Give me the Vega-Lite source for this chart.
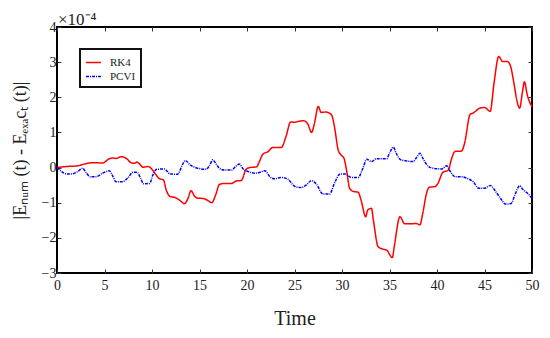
{
  "$schema": "https://vega.github.io/schema/vega-lite/v6.json",
  "width": 475,
  "height": 246,
  "autosize": {"type": "none"},
  "padding": {"left": 57, "top": 27, "right": 18, "bottom": 65},
  "background": "white",
  "config": {
    "view": {"stroke": "#000000", "strokeWidth": 2},
    "font": "Liberation Serif",
    "text": {"font": "Liberation Serif"},
    "axis": {
      "labelFont": "Liberation Serif",
      "titleFont": "Liberation Serif",
      "labelFontSize": 14,
      "labelColor": "#222222",
      "titleColor": "#222222",
      "titleFontWeight": "normal",
      "grid": false,
      "domain": false,
      "labelFlush": false,
      "tickColor": "#333333",
      "tickSize": -4,
      "tickWidth": 1
    },
    "legend": {"labelFont": "Liberation Serif"}
  },
  "data": {
    "values": [
      {"t": 0, "v": 0, "method": "RK4"},
      {"t": 1, "v": 0.03, "method": "RK4"},
      {"t": 2.2, "v": 0.05, "method": "RK4"},
      {"t": 2.7, "v": 0.09, "method": "RK4"},
      {"t": 3.8, "v": 0.14, "method": "RK4"},
      {"t": 4.8, "v": 0.13, "method": "RK4"},
      {"t": 5.5, "v": 0.25, "method": "RK4"},
      {"t": 5.9, "v": 0.27, "method": "RK4"},
      {"t": 6.2, "v": 0.26, "method": "RK4"},
      {"t": 6.8, "v": 0.31, "method": "RK4"},
      {"t": 7.3, "v": 0.26, "method": "RK4"},
      {"t": 7.8, "v": 0.14, "method": "RK4"},
      {"t": 8.2, "v": 0.12, "method": "RK4"},
      {"t": 8.4, "v": 0.16, "method": "RK4"},
      {"t": 8.7, "v": 0.1, "method": "RK4"},
      {"t": 9.05, "v": 0.01, "method": "RK4"},
      {"t": 9.6, "v": 0.03, "method": "RK4"},
      {"t": 9.9, "v": -0.02, "method": "RK4"},
      {"t": 10.3, "v": -0.16, "method": "RK4"},
      {"t": 10.8, "v": -0.32, "method": "RK4"},
      {"t": 11.2, "v": -0.35, "method": "RK4"},
      {"t": 11.5, "v": -0.64, "method": "RK4"},
      {"t": 11.9, "v": -0.82, "method": "RK4"},
      {"t": 12.4, "v": -0.85, "method": "RK4"},
      {"t": 12.7, "v": -0.89, "method": "RK4"},
      {"t": 13.1, "v": -0.97, "method": "RK4"},
      {"t": 13.4, "v": -1.03, "method": "RK4"},
      {"t": 13.8, "v": -0.87, "method": "RK4"},
      {"t": 14.1, "v": -0.66, "method": "RK4"},
      {"t": 14.5, "v": -0.82, "method": "RK4"},
      {"t": 14.8, "v": -0.87, "method": "RK4"},
      {"t": 15.4, "v": -0.88, "method": "RK4"},
      {"t": 15.9, "v": -0.94, "method": "RK4"},
      {"t": 16.3, "v": -1.0, "method": "RK4"},
      {"t": 16.7, "v": -0.78, "method": "RK4"},
      {"t": 17.1, "v": -0.48, "method": "RK4"},
      {"t": 17.6, "v": -0.45, "method": "RK4"},
      {"t": 18.4, "v": -0.45, "method": "RK4"},
      {"t": 18.9, "v": -0.38, "method": "RK4"},
      {"t": 19.4, "v": -0.37, "method": "RK4"},
      {"t": 19.9, "v": -0.05, "method": "RK4"},
      {"t": 20.3, "v": 0, "method": "RK4"},
      {"t": 21.0, "v": 0.02, "method": "RK4"},
      {"t": 21.3, "v": 0.17, "method": "RK4"},
      {"t": 21.7, "v": 0.39, "method": "RK4"},
      {"t": 22.2, "v": 0.45, "method": "RK4"},
      {"t": 22.7, "v": 0.57, "method": "RK4"},
      {"t": 23.6, "v": 0.57, "method": "RK4"},
      {"t": 24.1, "v": 0.88, "method": "RK4"},
      {"t": 24.6, "v": 1.3, "method": "RK4"},
      {"t": 25.0, "v": 1.29, "method": "RK4"},
      {"t": 25.5, "v": 1.32, "method": "RK4"},
      {"t": 26.0, "v": 1.33, "method": "RK4"},
      {"t": 26.4, "v": 1.24, "method": "RK4"},
      {"t": 26.8, "v": 1.0, "method": "RK4"},
      {"t": 27.1, "v": 1.26, "method": "RK4"},
      {"t": 27.5, "v": 1.74, "method": "RK4"},
      {"t": 27.8, "v": 1.57, "method": "RK4"},
      {"t": 28.3, "v": 1.58, "method": "RK4"},
      {"t": 28.9, "v": 1.5, "method": "RK4"},
      {"t": 29.2, "v": 1.17, "method": "RK4"},
      {"t": 29.6, "v": 0.5, "method": "RK4"},
      {"t": 29.9, "v": 0.36, "method": "RK4"},
      {"t": 30.2, "v": 0.27, "method": "RK4"},
      {"t": 30.5, "v": -0.11, "method": "RK4"},
      {"t": 30.8, "v": -0.59, "method": "RK4"},
      {"t": 31.2, "v": -0.68, "method": "RK4"},
      {"t": 31.7, "v": -0.7, "method": "RK4"},
      {"t": 32.0, "v": -0.92, "method": "RK4"},
      {"t": 32.5, "v": -1.4, "method": "RK4"},
      {"t": 32.7, "v": -1.21, "method": "RK4"},
      {"t": 33.1, "v": -1.16, "method": "RK4"},
      {"t": 33.3, "v": -1.49, "method": "RK4"},
      {"t": 33.8, "v": -2.25, "method": "RK4"},
      {"t": 34.3, "v": -2.32, "method": "RK4"},
      {"t": 34.7, "v": -2.35, "method": "RK4"},
      {"t": 35.3, "v": -2.56, "method": "RK4"},
      {"t": 35.5, "v": -2.25, "method": "RK4"},
      {"t": 36.1, "v": -1.4, "method": "RK4"},
      {"t": 36.6, "v": -1.6, "method": "RK4"},
      {"t": 37.3, "v": -1.6, "method": "RK4"},
      {"t": 37.8, "v": -1.59, "method": "RK4"},
      {"t": 38.2, "v": -1.63, "method": "RK4"},
      {"t": 38.5, "v": -1.3, "method": "RK4"},
      {"t": 38.9, "v": -0.73, "method": "RK4"},
      {"t": 39.2, "v": -0.56, "method": "RK4"},
      {"t": 39.8, "v": -0.54, "method": "RK4"},
      {"t": 40.1, "v": -0.45, "method": "RK4"},
      {"t": 40.6, "v": -0.14, "method": "RK4"},
      {"t": 41.2, "v": -0.07, "method": "RK4"},
      {"t": 41.5, "v": 0.22, "method": "RK4"},
      {"t": 41.9, "v": 0.46, "method": "RK4"},
      {"t": 42.6, "v": 0.47, "method": "RK4"},
      {"t": 42.9, "v": 0.69, "method": "RK4"},
      {"t": 43.5, "v": 1.52, "method": "RK4"},
      {"t": 43.8, "v": 1.55, "method": "RK4"},
      {"t": 44.5, "v": 1.69, "method": "RK4"},
      {"t": 45.0, "v": 1.71, "method": "RK4"},
      {"t": 45.6, "v": 1.6, "method": "RK4"},
      {"t": 46.0, "v": 2.4, "method": "RK4"},
      {"t": 46.5, "v": 3.16, "method": "RK4"},
      {"t": 46.9, "v": 3.02, "method": "RK4"},
      {"t": 47.4, "v": 3.02, "method": "RK4"},
      {"t": 47.7, "v": 2.92, "method": "RK4"},
      {"t": 48.1, "v": 2.4, "method": "RK4"},
      {"t": 48.4, "v": 1.92, "method": "RK4"},
      {"t": 48.7, "v": 1.69, "method": "RK4"},
      {"t": 49.0, "v": 2.16, "method": "RK4"},
      {"t": 49.2, "v": 2.44, "method": "RK4"},
      {"t": 49.5, "v": 2.07, "method": "RK4"},
      {"t": 50, "v": 1.73, "method": "RK4"},
      {"t": 0, "v": 0, "method": "PCVI"},
      {"t": 0.46, "v": -0.11, "method": "PCVI"},
      {"t": 1, "v": -0.18, "method": "PCVI"},
      {"t": 1.5, "v": -0.18, "method": "PCVI"},
      {"t": 2.2, "v": -0.11, "method": "PCVI"},
      {"t": 2.7, "v": -0.02, "method": "PCVI"},
      {"t": 3.1, "v": -0.16, "method": "PCVI"},
      {"t": 3.5, "v": -0.26, "method": "PCVI"},
      {"t": 4.1, "v": -0.26, "method": "PCVI"},
      {"t": 4.8, "v": -0.16, "method": "PCVI"},
      {"t": 5.5, "v": -0.09, "method": "PCVI"},
      {"t": 5.9, "v": -0.26, "method": "PCVI"},
      {"t": 6.2, "v": -0.4, "method": "PCVI"},
      {"t": 6.9, "v": -0.4, "method": "PCVI"},
      {"t": 7.5, "v": -0.28, "method": "PCVI"},
      {"t": 8.0, "v": -0.13, "method": "PCVI"},
      {"t": 8.4, "v": -0.13, "method": "PCVI"},
      {"t": 8.8, "v": -0.3, "method": "PCVI"},
      {"t": 9.1, "v": -0.46, "method": "PCVI"},
      {"t": 9.75, "v": -0.45, "method": "PCVI"},
      {"t": 10.1, "v": -0.21, "method": "PCVI"},
      {"t": 10.5, "v": -0.05, "method": "PCVI"},
      {"t": 11.3, "v": -0.04, "method": "PCVI"},
      {"t": 11.9, "v": -0.18, "method": "PCVI"},
      {"t": 12.7, "v": -0.19, "method": "PCVI"},
      {"t": 13.2, "v": 0.08, "method": "PCVI"},
      {"t": 13.5, "v": 0.2, "method": "PCVI"},
      {"t": 14.0, "v": 0.08, "method": "PCVI"},
      {"t": 14.7, "v": -0.01, "method": "PCVI"},
      {"t": 15.7, "v": -0.05, "method": "PCVI"},
      {"t": 16.1, "v": 0.08, "method": "PCVI"},
      {"t": 16.4, "v": 0.22, "method": "PCVI"},
      {"t": 16.7, "v": 0.12, "method": "PCVI"},
      {"t": 17.1, "v": -0.02, "method": "PCVI"},
      {"t": 17.6, "v": -0.07, "method": "PCVI"},
      {"t": 18.4, "v": -0.07, "method": "PCVI"},
      {"t": 18.8, "v": 0.03, "method": "PCVI"},
      {"t": 19.2, "v": 0.1, "method": "PCVI"},
      {"t": 19.6, "v": -0.04, "method": "PCVI"},
      {"t": 20.1, "v": -0.11, "method": "PCVI"},
      {"t": 20.8, "v": -0.16, "method": "PCVI"},
      {"t": 21.3, "v": -0.14, "method": "PCVI"},
      {"t": 21.9, "v": -0.09, "method": "PCVI"},
      {"t": 22.4, "v": -0.26, "method": "PCVI"},
      {"t": 22.9, "v": -0.32, "method": "PCVI"},
      {"t": 23.6, "v": -0.28, "method": "PCVI"},
      {"t": 24.3, "v": -0.33, "method": "PCVI"},
      {"t": 25.0, "v": -0.53, "method": "PCVI"},
      {"t": 25.7, "v": -0.57, "method": "PCVI"},
      {"t": 26.25, "v": -0.49, "method": "PCVI"},
      {"t": 26.8, "v": -0.37, "method": "PCVI"},
      {"t": 27.3, "v": -0.47, "method": "PCVI"},
      {"t": 28.0, "v": -0.75, "method": "PCVI"},
      {"t": 28.7, "v": -0.75, "method": "PCVI"},
      {"t": 29.2, "v": -0.45, "method": "PCVI"},
      {"t": 29.8, "v": -0.18, "method": "PCVI"},
      {"t": 30.3, "v": -0.18, "method": "PCVI"},
      {"t": 31.0, "v": -0.28, "method": "PCVI"},
      {"t": 31.7, "v": -0.28, "method": "PCVI"},
      {"t": 32.2, "v": -0.02, "method": "PCVI"},
      {"t": 32.6, "v": 0.24, "method": "PCVI"},
      {"t": 33.1, "v": 0.17, "method": "PCVI"},
      {"t": 33.6, "v": 0.25, "method": "PCVI"},
      {"t": 34.7, "v": 0.25, "method": "PCVI"},
      {"t": 35.0, "v": 0.41, "method": "PCVI"},
      {"t": 35.4, "v": 0.58, "method": "PCVI"},
      {"t": 35.7, "v": 0.41, "method": "PCVI"},
      {"t": 36.2, "v": 0.22, "method": "PCVI"},
      {"t": 36.8, "v": 0.19, "method": "PCVI"},
      {"t": 37.5, "v": 0.17, "method": "PCVI"},
      {"t": 37.9, "v": 0.31, "method": "PCVI"},
      {"t": 38.2, "v": 0.41, "method": "PCVI"},
      {"t": 38.5, "v": 0.27, "method": "PCVI"},
      {"t": 39.1, "v": 0.03, "method": "PCVI"},
      {"t": 39.6, "v": -0.02, "method": "PCVI"},
      {"t": 40.5, "v": -0.04, "method": "PCVI"},
      {"t": 41.0, "v": 0.05, "method": "PCVI"},
      {"t": 41.4, "v": -0.11, "method": "PCVI"},
      {"t": 41.9, "v": -0.26, "method": "PCVI"},
      {"t": 42.6, "v": -0.26, "method": "PCVI"},
      {"t": 43.1, "v": -0.3, "method": "PCVI"},
      {"t": 43.8, "v": -0.4, "method": "PCVI"},
      {"t": 44.4, "v": -0.59, "method": "PCVI"},
      {"t": 45.0, "v": -0.59, "method": "PCVI"},
      {"t": 45.6, "v": -0.51, "method": "PCVI"},
      {"t": 46.25, "v": -0.71, "method": "PCVI"},
      {"t": 46.8, "v": -0.92, "method": "PCVI"},
      {"t": 47.2, "v": -1.04, "method": "PCVI"},
      {"t": 47.8, "v": -1.02, "method": "PCVI"},
      {"t": 48.2, "v": -0.78, "method": "PCVI"},
      {"t": 48.7, "v": -0.52, "method": "PCVI"},
      {"t": 49.0, "v": -0.61, "method": "PCVI"},
      {"t": 49.6, "v": -0.75, "method": "PCVI"},
      {"t": 50, "v": -0.87, "method": "PCVI"}
    ]
  },
  "layer": [
    {
      "mark": {"type": "line", "strokeWidth": 1.5, "interpolate": "monotone"},
      "encoding": {
        "x": {
          "field": "t", "type": "quantitative",
          "scale": {"domain": [0, 50], "nice": false},
          "axis": {"values": [0,5,10,15,20,25,30,35,40,45,50], "labelPadding": 9, "labelFont": "Liberation Serif", "labelFlush": false, "title": "Time", "titleFont": "Liberation Serif", "titleFontSize": 20, "titlePadding": 16}
        },
        "y": {
          "field": "v", "type": "quantitative",
          "scale": {"domain": [-3, 4], "nice": false},
          "axis": {"values": [-3,-2,-1,0,1,2,3,4], "labelPadding": 5, "labelFont": "Liberation Serif", "labelFlush": false, "title": "|Eₙᵤₘ (t) - Eₑₓₐcₜ (t)|", "titleFont": "Liberation Serif", "titleFontSize": 18, "titlePadding": 12}
        },
        "color": {
          "field": "method", "type": "nominal",
          "scale": {"domain": ["RK4", "PCVI"], "range": ["#ff0000", "#0000ff"]},
          "legend": {
            "title": null, "orient": "none", "legendX": 23, "legendY": 22,
            "labelFont": "Liberation Serif", "labelFontSize": 11, "labelColor": "#222222",
            "symbolType": "stroke", "symbolSize": 225, "symbolStrokeWidth": 1.5,
            "strokeColor": "#111111", "padding": 5, "rowPadding": -7, "labelOffset": 8,
            "fillColor": "white",
            "encode": {"legend": {"update": {"strokeWidth": {"value": 2}}}}
          }
        },
        "strokeDash": {
          "field": "method", "type": "nominal",
          "scale": {"domain": ["RK4", "PCVI"], "range": [[1, 0], [3, 1, 1, 1]]},
          "legend": {
            "title": null, "orient": "none", "legendX": 23, "legendY": 22,
            "labelFont": "Liberation Serif", "labelFontSize": 11, "labelColor": "#222222",
            "symbolType": "stroke", "symbolSize": 225, "symbolStrokeWidth": 1.5,
            "strokeColor": "#111111", "padding": 5, "rowPadding": -7, "labelOffset": 8,
            "fillColor": "white",
            "encode": {"legend": {"update": {"strokeWidth": {"value": 2}}}}
          }
        }
      }
    },
    {
      "mark": {"type": "line", "opacity": 0},
      "encoding": {
        "x": {"field": "t", "type": "quantitative", "axis": {"orient": "top", "values": [0,5,10,15,20,25,30,35,40,45,50], "labels": false, "title": null}},
        "y": {"field": "v", "type": "quantitative", "axis": {"orient": "right", "values": [-3,-2,-1,0,1,2,3,4], "labels": false, "title": null}},
        "detail": {"field": "method"}
      }
    },
    {
      "data": {"values": [{"t": 0, "v": 4, "label": "×10⁻⁴"}]},
      "mark": {"type": "text", "align": "left", "baseline": "alphabetic", "dx": 1, "dy": -2, "fontSize": 17, "font": "Liberation Serif", "color": "#222222"},
      "encoding": {
        "x": {"field": "t", "type": "quantitative", "axis": null},
        "y": {"field": "v", "type": "quantitative", "axis": null},
        "text": {"field": "label"}
      }
    }
  ],
  "resolve": {"axis": {"x": "independent", "y": "independent"}}
}
